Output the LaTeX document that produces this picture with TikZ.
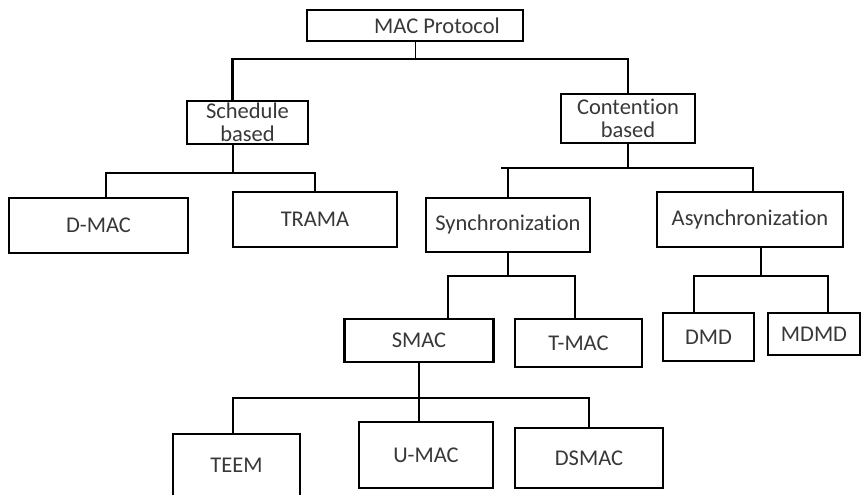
\documentclass[tikz,border=0pt]{standalone}
\usepackage{fontspec}
\setmainfont{Carlito}[Ligatures=NoCommon]
\usetikzlibrary{positioning}

\tikzset{
  box/.style={draw, line width=2.4pt, inner sep=0pt, align=center,
    font=\fontsize{22.5}{22.5}\selectfont, text=black!78},
  link/.style={line width=2.4pt},
}

\begin{document}
\begin{tikzpicture}[x=1pt,y=-1pt]
\useasboundingbox (0,0) rectangle (862,495);

% top
\node [box, minimum width=216pt, minimum height=31pt] (mac) at (415,25.5) {\hspace*{44pt}MAC Protocol};

% second row
\node [box, minimum width=121pt, minimum height=43pt] (sched) at (247.5,122.5) {Schedule\\based};
\node [box, minimum width=134pt, minimum height=49pt] (cont) at (628,118.5) {Contention\\based};

% third row
\node [box, minimum width=179pt, minimum height=55pt] (dmac) at (98.5,225.5) {D-MAC};
\node [box, minimum width=164pt, minimum height=55pt] (trama) at (315,219.5) {TRAMA};
\node [box, minimum width=164pt, minimum height=54pt] (sync) at (508,225) {Synchronization};
\node [box, minimum width=186pt, minimum height=55pt] (async) at (750,219.5) {Asynchronization};

% fourth row
\node [box, minimum width=149pt, minimum height=43pt] (smac) at (419,340.5) {SMAC};
\node [box, minimum width=127pt, minimum height=48pt] (tmac) at (578.5,343) {T-MAC};
\node [box, minimum width=91pt, minimum height=48pt] (dmd) at (708.5,337) {DMD};
\node [box, minimum width=92pt, minimum height=42pt] (mdmd) at (814,334) {MDMD};

% bottom row
\node [box, minimum width=127pt, minimum height=63pt] (teem) at (236.5,465.5) {TEEM};
\node [box, minimum width=134pt, minimum height=66pt] (umac) at (426,455) {U-MAC};
\node [box, minimum width=148pt, minimum height=60pt] (dsmac) at (589,458) {DSMAC};

% junctions
\coordinate (j0) at (415,59);
\coordinate (j1) at (233,173);
\coordinate (j2) at (628,168);
\coordinate (j3) at (508,276);
\coordinate (j4) at (761,276);
\coordinate (j5) at (419,398);

% connectors
\draw [link, line width=1pt] (mac.south) -- (j0);
\draw [link] ([xshift=-15pt]sched.north) |- (j0) -| (cont.north);
\draw [link] ([xshift=-14.5pt]sched.south) -- (j1);
\draw [link] ([xshift=7.5pt]dmac.north) |- (j1) -| (trama.north);
\draw [link] (cont.south) -- (j2);
\draw [link] ([xshift=-7pt]sync.north |- j2) -- (j2) -| ([xshift=3pt]async.north);
\draw [link] (sync.north) -- (sync.north |- j2);
\draw [link] (sync.south) -- (j3);
\draw [link] ([xshift=29pt]smac.north) |- (j3) -| ([xshift=-3.5pt]tmac.north);
\draw [link] ([xshift=11pt]async.south) -- (j4);
\draw [link] ([xshift=-14.5pt]dmd.north) |- (j4) -| ([xshift=14pt]mdmd.north);
\draw [link] (smac.south) -- (j5) -- ([xshift=-7pt]umac.north);
\draw [link] ([xshift=-3.5pt]teem.north) |- (j5) -| (dsmac.north);
\end{tikzpicture}
\end{document}
